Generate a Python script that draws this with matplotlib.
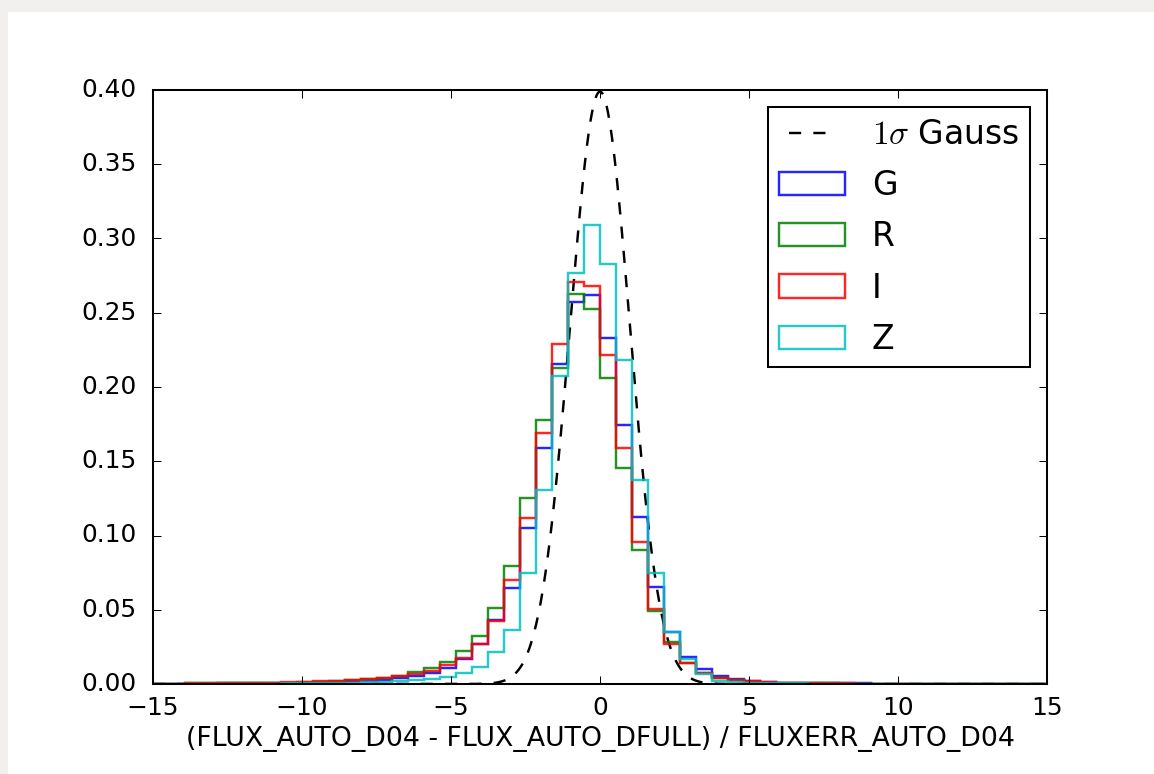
#coding: utf-8

import numpy as np
import matplotlib
matplotlib.use("Agg")
import matplotlib.pyplot as plt
from matplotlib.patches import Rectangle

# bin edges: 56 equal bins over [-15, 15]
x_lo, x_hi, n_bins = -15.0, 15.0, 56

# normalised counts per bin, left to right
g_band = [0.0002, 0.0002, 0.0003, 0.0003, 0.0004, 0.0004, 0.0005, 0.0006,
          0.0007, 0.0009, 0.0011, 0.0014, 0.0018, 0.0023, 0.0029, 0.0038,
          0.0052, 0.0072, 0.0110, 0.0170, 0.0269, 0.0430, 0.0644, 0.1048,
          0.1587, 0.2153, 0.2575, 0.2620, 0.2328, 0.1744, 0.1122, 0.0651,
          0.0352, 0.0184, 0.0099, 0.0056, 0.0032, 0.0021, 0.0014, 0.0010,
          0.0008, 0.0006, 0.0005, 0.0004, 0.0004, 0.0003, 0.0003, 0.0003,
          0.0002, 0.0002, 0.0002, 0.0002, 0.0001, 0.0001, 0.0001, 0.0001]

r_band = [0.0003, 0.0003, 0.0004, 0.0004, 0.0005, 0.0006, 0.0007, 0.0008,
          0.0010, 0.0012, 0.0015, 0.0020, 0.0025, 0.0032, 0.0040, 0.0055,
          0.0080, 0.0105, 0.0150, 0.0220, 0.0320, 0.0510, 0.0797, 0.1250,
          0.1778, 0.2130, 0.2624, 0.2525, 0.2059, 0.1457, 0.0902, 0.0494,
          0.0280, 0.0139, 0.0076, 0.0040, 0.0025, 0.0015, 0.0010, 0.0008,
          0.0006, 0.0005, 0.0004, 0.0003, 0.0003, 0.0003, 0.0002, 0.0002,
          0.0002, 0.0002, 0.0001, 0.0001, 0.0001, 0.0001, 0.0001, 0.0001]

i_band = [0.0003, 0.0003, 0.0004, 0.0004, 0.0005, 0.0006, 0.0007, 0.0009,
          0.0011, 0.0014, 0.0018, 0.0022, 0.0028, 0.0034, 0.0042, 0.0052,
          0.0068, 0.0090, 0.0125, 0.0173, 0.0269, 0.0424, 0.0700, 0.1120,
          0.1688, 0.2287, 0.2705, 0.2680, 0.2215, 0.1590, 0.0958, 0.0505,
          0.0269, 0.0139, 0.0076, 0.0038, 0.0025, 0.0017, 0.0012, 0.0009,
          0.0007, 0.0005, 0.0004, 0.0004, 0.0003, 0.0003, 0.0002, 0.0002,
          0.0002, 0.0002, 0.0001, 0.0001, 0.0001, 0.0001, 0.0001, 0.0001]

z_band = [0.0001, 0.0001, 0.0001, 0.0002, 0.0002, 0.0002, 0.0003, 0.0003,
          0.0004, 0.0005, 0.0006, 0.0008, 0.0010, 0.0012, 0.0015, 0.0019,
          0.0025, 0.0035, 0.0050, 0.0076, 0.0117, 0.0218, 0.0364, 0.0745,
          0.1306, 0.2076, 0.2766, 0.3090, 0.2830, 0.2180, 0.1374, 0.0745,
          0.0352, 0.0166, 0.0067, 0.0022, 0.0012, 0.0008, 0.0006, 0.0005,
          0.0004, 0.0003, 0.0003, 0.0002, 0.0002, 0.0002, 0.0002, 0.0001,
          0.0001, 0.0001, 0.0001, 0.0001, 0.0001, 0.0001, 0.0001, 0.0001]

band_names = ["G", "R", "I", "Z"]
band_colors = ["b", "g", "r", "c"]

gauss_mu, gauss_sigma = 0.0, 1.0


def main():

    plt.style.use("classic")

    dpi = 146
    fg = plt.figure(figsize=(1154 / dpi, 774 / dpi), dpi=dpi, facecolor="#f1f0ee")
    # white card on the paper background
    fg.patches.append(Rectangle((8 / 1154, 0), 1, 1 - 12 / 774, transform=fg.transFigure,
                                facecolor="white", edgecolor="none", zorder=-1))

    ax = fg.add_axes([153 / 1154, 90 / 774, 894 / 1154, 594 / 774])

    edges = np.linspace(x_lo, x_hi, n_bins + 1)
    centres = 0.5 * (edges[:-1] + edges[1:])

    xx = np.linspace(x_lo, x_hi, 1200)
    pdf = np.exp(-0.5 * ((xx - gauss_mu) / gauss_sigma) ** 2) / (gauss_sigma * np.sqrt(2 * np.pi))
    ax.plot(xx, pdf, "k--", lw=1.2, label=r"$1\sigma$ Gauss")

    for name, col, vals in zip(band_names, band_colors,
                               [g_band, r_band, i_band, z_band]):
        ax.hist(centres, bins=edges, weights=vals, histtype="step",
                color=col, lw=1.2, alpha=0.85, label=name)

    ax.set_xlim(x_lo, x_hi)
    ax.set_ylim(0, 0.40)
    ax.set_xticks(np.arange(-15, 16, 5))
    ax.set_yticks(np.arange(0, 0.401, 0.05))
    ax.yaxis.set_major_formatter(plt.FormatStrFormatter("%.2f"))
    ax.tick_params(axis="y", pad=8, labelsize=12.3)
    ax.tick_params(axis="x", pad=6, labelsize=12.3)
    ax.set_xlabel("(FLUX_AUTO_D04 - FLUX_AUTO_DFULL) / FLUXERR_AUTO_D04",
                  fontsize=13.2, labelpad=3)

    ax.legend(loc="upper right", fontsize=16.3, labelspacing=0.55, borderpad=0.35)

    fg.savefig("out.png", dpi=dpi, facecolor=fg.get_facecolor())


if __name__ == "__main__":
    main()
